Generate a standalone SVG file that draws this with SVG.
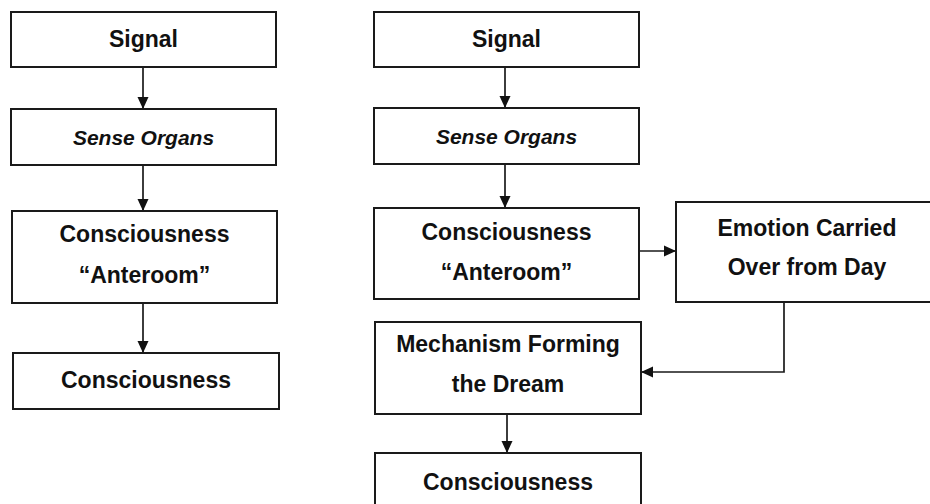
<svg xmlns="http://www.w3.org/2000/svg" width="930" height="504" viewBox="0 0 930 504">
<style>
.box{fill:#fff;stroke:#1a1a1a;stroke-width:2}
.t{font-family:"Liberation Sans",Arial,sans-serif;font-weight:bold;font-size:23px;fill:#111;text-anchor:middle}
.i{font-style:italic;font-size:21px}
.c{fill:none;stroke:#1a1a1a;stroke-width:1.7}
</style>
<defs>
<marker id="ah" markerWidth="12" markerHeight="12" refX="12" refY="6" orient="auto" markerUnits="userSpaceOnUse">
<path d="M0,0.5 L12,6 L0,11.5 Z" fill="#111"/>
</marker>
</defs>
<rect width="930" height="504" fill="#fff"/>
<g id="connectors">
<line class="c" x1="143" y1="67" x2="143" y2="109" marker-end="url(#ah)"/>
<line class="c" x1="143" y1="165" x2="143" y2="211" marker-end="url(#ah)"/>
<line class="c" x1="143" y1="303" x2="143" y2="353" marker-end="url(#ah)"/>
<line class="c" x1="505" y1="67" x2="505" y2="108" marker-end="url(#ah)"/>
<line class="c" x1="505" y1="164" x2="505" y2="208" marker-end="url(#ah)"/>
<line class="c" x1="640" y1="251" x2="676" y2="251" marker-end="url(#ah)"/>
<polyline class="c" points="784,302 784,372 641,372" marker-end="url(#ah)"/>
<line class="c" x1="507" y1="414" x2="507" y2="453" marker-end="url(#ah)"/>
</g>
<g id="l-signal"><rect class="box" x="11" y="12" width="265" height="55"/><text class="t" x="143.5" y="47">Signal</text></g>
<g id="l-sense"><rect class="box" x="11" y="109" width="265" height="56"/><text class="t i" x="143.5" y="145">Sense Organs</text></g>
<g id="l-anteroom"><rect class="box" x="12" y="211" width="265" height="92"/><text class="t" x="144.5" y="242">Consciousness</text><text class="t" x="144.5" y="283">“Anteroom”</text></g>
<g id="l-conscious"><rect class="box" x="13" y="353" width="266" height="56"/><text class="t" x="146" y="388">Consciousness</text></g>
<g id="r-signal"><rect class="box" x="374" y="12" width="265" height="55"/><text class="t" x="506.5" y="47">Signal</text></g>
<g id="r-sense"><rect class="box" x="374" y="108" width="265" height="56"/><text class="t i" x="506.5" y="144">Sense Organs</text></g>
<g id="r-anteroom"><rect class="box" x="374" y="208" width="265" height="91"/><text class="t" x="506.5" y="240">Consciousness</text><text class="t" x="506.5" y="280">“Anteroom”</text></g>
<g id="r-emotion"><rect class="box" x="676" y="202" width="262" height="100"/><text class="t" x="807" y="236">Emotion Carried</text><text class="t" x="807" y="275">Over from Day</text></g>
<g id="r-mechanism"><rect class="box" x="375" y="322" width="266" height="92"/><text class="t" x="508" y="352">Mechanism Forming</text><text class="t" x="508" y="392">the Dream</text></g>
<g id="r-conscious"><rect class="box" x="375" y="453" width="266" height="60"/><text class="t" x="508" y="490">Consciousness</text></g>
</svg>
